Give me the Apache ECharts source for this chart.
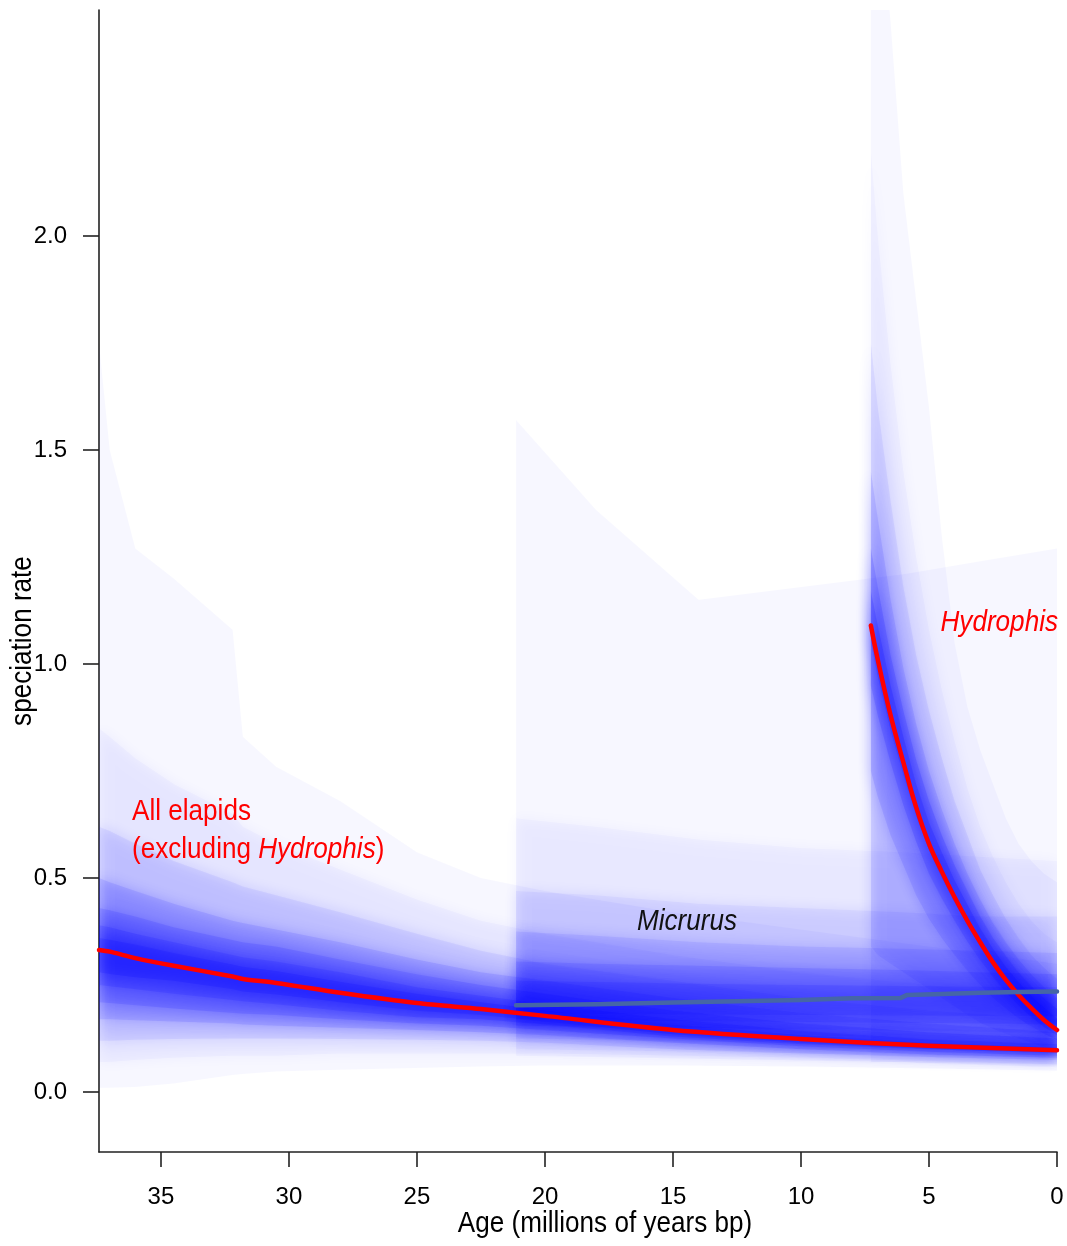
<!DOCTYPE html>
<html><head><meta charset="utf-8">
<script src="https://cdn.jsdelivr.net/npm/echarts@6/dist/echarts.min.js"></script>
<style>html,body{margin:0;padding:0;background:#fff}#c{width:1067px;height:1246px}</style>
</head><body><div id="c"></div>
<script>
// ---------- axis ticks ----------
const xTicks = [0, 5, 10, 15, 20, 25, 30, 35];
const yTicks = [0, 0.5, 1.0, 1.5, 2.0];

// ---------- All elapids (excluding Hydrophis) ----------
const E_age = [37.42, 37.0, 36.0, 34.5, 32.2, 31.8, 30.5, 28, 25, 22.5, 20, 15, 10, 5, 0];
const E_med = [0.332, 0.328, 0.313, 0.295, 0.270, 0.264, 0.255, 0.232, 0.208, 0.194, 0.178, 0.145, 0.124, 0.108, 0.098];
const E_hi = [
  [1.75, 1.50, 1.27, 1.20, 1.08, 0.83, 0.76, 0.68, 0.56, 0.50, 0.47, 0.42, 0.38, 0.34, 0.30],
  [0.85, 0.83, 0.78, 0.72, 0.65, 0.62, 0.58, 0.52, 0.45, 0.40, 0.37, 0.32, 0.28, 0.25, 0.22],
  [0.62, 0.61, 0.58, 0.54, 0.49, 0.48, 0.46, 0.42, 0.37, 0.33, 0.30, 0.26, 0.22, 0.19, 0.17],
  [0.50, 0.49, 0.47, 0.44, 0.40, 0.395, 0.38, 0.35, 0.31, 0.28, 0.26, 0.22, 0.185, 0.16, 0.14],
  [0.43, 0.425, 0.41, 0.385, 0.355, 0.35, 0.34, 0.31, 0.275, 0.25, 0.23, 0.19, 0.16, 0.14, 0.125],
  [0.39, 0.385, 0.37, 0.35, 0.32, 0.315, 0.305, 0.28, 0.245, 0.225, 0.205, 0.17, 0.143, 0.123, 0.112],
  [0.36, 0.356, 0.345, 0.325, 0.298, 0.293, 0.283, 0.258, 0.23, 0.21, 0.192, 0.158, 0.133, 0.115, 0.104]
];
const E_lo = [
  [0.01, 0.01, 0.012, 0.02, 0.04, 0.042, 0.048, 0.052, 0.056, 0.06, 0.062, 0.062, 0.06, 0.055, 0.05],
  [0.07, 0.07, 0.075, 0.08, 0.085, 0.085, 0.085, 0.09, 0.09, 0.09, 0.09, 0.085, 0.08, 0.072, 0.065],
  [0.12, 0.12, 0.122, 0.124, 0.125, 0.125, 0.125, 0.124, 0.122, 0.12, 0.115, 0.10, 0.09, 0.082, 0.075],
  [0.17, 0.17, 0.168, 0.165, 0.16, 0.158, 0.155, 0.15, 0.145, 0.14, 0.133, 0.115, 0.10, 0.088, 0.08],
  [0.21, 0.208, 0.203, 0.195, 0.185, 0.183, 0.18, 0.17, 0.16, 0.155, 0.145, 0.125, 0.107, 0.094, 0.085],
  [0.25, 0.247, 0.24, 0.23, 0.215, 0.212, 0.205, 0.19, 0.175, 0.17, 0.158, 0.13, 0.112, 0.10, 0.09],
  [0.28, 0.276, 0.268, 0.26, 0.24, 0.235, 0.228, 0.21, 0.19, 0.18, 0.165, 0.135, 0.115, 0.101, 0.093]
];
const E_alpha = [0.03, 0.072, 0.167, 0.267, 0.309, 0.342, 0.40];

// ---------- Micrurus ----------
const M_age = [21.13, 18, 15, 12, 10, 8, 6.1, 5.85, 4.5, 3, 1.5, 0];
const M_mean = [0.203, 0.205, 0.209, 0.213, 0.215, 0.219, 0.220, 0.227, 0.229, 0.232, 0.234, 0.235];
const M_bage = [21.13, 18, 14, 10, 6, 3, 0];
const M_hi = [
  [1.57, 1.36, 1.15, 1.18, 1.21, 1.24, 1.27],
  [0.64, 0.62, 0.59, 0.57, 0.56, 0.55, 0.54],
  [0.47, 0.46, 0.44, 0.43, 0.42, 0.41, 0.41],
  [0.375, 0.365, 0.35, 0.34, 0.335, 0.33, 0.325],
  [0.305, 0.30, 0.295, 0.29, 0.285, 0.28, 0.275],
  [0.26, 0.257, 0.253, 0.25, 0.248, 0.246, 0.245]
];
const M_lo = [
  [0.085, 0.082, 0.078, 0.074, 0.07, 0.067, 0.064],
  [0.10, 0.098, 0.094, 0.09, 0.086, 0.083, 0.08],
  [0.125, 0.122, 0.118, 0.113, 0.108, 0.104, 0.10],
  [0.155, 0.153, 0.15, 0.147, 0.144, 0.141, 0.138],
  [0.17, 0.168, 0.166, 0.164, 0.162, 0.16, 0.158],
  [0.185, 0.183, 0.181, 0.18, 0.179, 0.178, 0.177]
];
const M_alpha = [0.03, 0.06, 0.12, 0.2, 0.27, 0.29];

// ---------- Hydrophis ----------
const H_age = [7.27, 7.0, 6.5, 6.0, 5.5, 5.0, 4.5, 4.0, 3.5, 3.0, 2.5, 2.0, 1.5, 1.0, 0.5, 0];
const H_med = [1.09, 1.01, 0.88, 0.77, 0.665, 0.58, 0.515, 0.455, 0.40, 0.35, 0.303, 0.262, 0.227, 0.196, 0.168, 0.145];
const H_hi = [
  [3.0, 2.85, 2.5, 2.1, 1.85, 1.6, 1.3, 1.05, 0.9, 0.8, 0.72, 0.64, 0.58, 0.54, 0.51, 0.49],
  [2.2, 2.0, 1.7, 1.45, 1.25, 1.08, 0.94, 0.82, 0.71, 0.62, 0.55, 0.49, 0.44, 0.40, 0.37, 0.35],
  [1.75, 1.6, 1.38, 1.18, 1.02, 0.89, 0.78, 0.68, 0.6, 0.52, 0.46, 0.405, 0.36, 0.32, 0.29, 0.265],
  [1.45, 1.34, 1.15, 0.99, 0.86, 0.75, 0.66, 0.58, 0.51, 0.45, 0.395, 0.35, 0.31, 0.275, 0.245, 0.22],
  [1.27, 1.18, 1.02, 0.89, 0.775, 0.68, 0.6, 0.53, 0.47, 0.41, 0.36, 0.318, 0.28, 0.247, 0.218, 0.195],
  [1.17, 1.09, 0.95, 0.83, 0.72, 0.63, 0.56, 0.495, 0.438, 0.383, 0.335, 0.293, 0.257, 0.225, 0.197, 0.172]
];
const H_lo = [
  [0.07, 0.07, 0.07, 0.07, 0.068, 0.068, 0.067, 0.066, 0.065, 0.064, 0.063, 0.062, 0.061, 0.06, 0.06, 0.06],
  [0.12, 0.12, 0.115, 0.11, 0.108, 0.105, 0.1, 0.098, 0.095, 0.092, 0.09, 0.088, 0.085, 0.083, 0.08, 0.078],
  [0.34, 0.32, 0.3, 0.28, 0.26, 0.24, 0.22, 0.2, 0.18, 0.162, 0.148, 0.136, 0.125, 0.115, 0.106, 0.099],
  [0.75, 0.69, 0.6, 0.53, 0.46, 0.405, 0.36, 0.32, 0.283, 0.25, 0.22, 0.195, 0.172, 0.153, 0.136, 0.121],
  [0.95, 0.88, 0.77, 0.67, 0.585, 0.51, 0.452, 0.4, 0.352, 0.308, 0.268, 0.233, 0.202, 0.175, 0.152, 0.132],
  [1.05, 0.97, 0.845, 0.74, 0.645, 0.565, 0.5, 0.443, 0.392, 0.343, 0.298, 0.259, 0.224, 0.194, 0.167, 0.144]
];
const H_alpha = [0.03, 0.072, 0.167, 0.267, 0.364, 0.429];

// ---------- build ----------
const FONT = "'Liberation Sans', Arial, Helvetica, sans-serif";
const OFF = 4000;   // shadow trick: soft copy of a band is drawn as a shadow
const BLUR = 14;

// one custom series per quantile band: data rows [age, lower, upper]
function bandSeries(ages, lo, hi, alpha) {
  const out = [];
  for (let k = 0; k < lo.length; k++) {
    const a = alpha[k];
    const soft = k > 0;
    const aSharp = soft ? a * 0.35 : a;
    const aSoft = soft ? 1 - (1 - a) / (1 - aSharp) : 0;
    out.push({
      type: 'custom', silent: true, clip: true,
      data: ages.map((x, i) => [x, lo[k][i], hi[k][i]]),
      encode: { x: 0, y: [1, 2] },
      renderItem: function (params, api) {
        if (params.dataIndexInside !== 0) return null;
        const n = params.dataInsideLength;
        const top = [], bot = [];
        for (let i = 0; i < n; i++) {
          const x = api.value(0, i);
          top.push(api.coord([x, api.value(2, i)]));
          bot.push(api.coord([x, api.value(1, i)]));
        }
        const pts = top.concat(bot.reverse());
        const children = [{ type: 'polygon', shape: { points: pts },
          style: { fill: 'rgba(0,0,255,' + aSharp + ')', stroke: null } }];
        if (soft) {
          children.push({ type: 'polygon', shape: { points: pts.map(p => [p[0] + OFF, p[1]]) },
            style: { fill: '#000', stroke: null, shadowBlur: BLUR, shadowOffsetX: -OFF, shadowOffsetY: 0,
                     shadowColor: 'rgba(0,0,255,' + aSoft + ')' } });
        }
        return { type: 'group', children: children };
      }
    });
  }
  return out;
}
function lineSeries(ages, vals, color, smooth) {
  return {
    type: 'line', silent: true, symbol: 'none', smooth: smooth,
    data: ages.map((a, i) => [a, vals[i]]),
    lineStyle: { color: color, width: 4.5, cap: 'round', join: 'round' }
  };
}

const series = [].concat(
  bandSeries(E_age, E_lo, E_hi, E_alpha),
  [lineSeries(E_age, E_med, '#ff0000', 0.3)],
  bandSeries(H_age, H_lo, H_hi, H_alpha),
  [lineSeries(H_age, H_med, '#ff0000', 0.4)],
  bandSeries(M_bage, M_lo, M_hi, M_alpha),
  [lineSeries(M_age, M_mean, '#4666a6', false)]
);

const axisLineStyle = { color: '#222', width: 1.6 };
const option = {
  animation: false,
  backgroundColor: '#ffffff',
  grid: { left: 99, right: 10, top: 10, bottom: 94, containLabel: false },
  xAxis: {
    type: 'value', inverse: true, min: 0, max: 37.42,
    axisLine: { show: true, onZero: false, lineStyle: axisLineStyle },
    axisTick: { show: true, length: 15, lineStyle: axisLineStyle, customValues: xTicks },
    axisLabel: { customValues: xTicks, fontSize: 24, color: '#000', fontFamily: FONT, margin: 33 },
    splitLine: { show: false }
  },
  yAxis: {
    type: 'value', min: -0.14, max: 2.528,
    axisLine: { show: true, onZero: false, lineStyle: axisLineStyle },
    axisTick: { show: true, length: 16, lineStyle: axisLineStyle, customValues: yTicks },
    axisLabel: { customValues: yTicks, fontSize: 24, color: '#000', fontFamily: FONT, margin: 32,
                 formatter: v => Number(v).toFixed(1) },
    splitLine: { show: false }
  },
  series: series,
  graphic: [
    { type: 'text', x: 132, y: 812, scaleX: 0.87, z: 100,
      style: { text: 'All elapids', fontSize: 30, fontFamily: FONT, fill: '#ff0000', align: 'left', verticalAlign: 'middle' } },
    { type: 'text', x: 132, y: 850, scaleX: 0.87, z: 100,
      style: { text: '(excluding {i|Hydrophis})', fontSize: 30, fontFamily: FONT, fill: '#ff0000', align: 'left', verticalAlign: 'middle',
               rich: { i: { fontStyle: 'italic', fontSize: 30, fontFamily: FONT, fill: '#ff0000' } } } },
    { type: 'text', x: 687, y: 922, scaleX: 0.87, z: 100,
      style: { text: 'Micrurus', fontSize: 30, fontStyle: 'italic', fontFamily: FONT, fill: '#111', align: 'center', verticalAlign: 'middle' } },
    { type: 'text', x: 1058, y: 623, scaleX: 0.87, z: 100,
      style: { text: 'Hydrophis', fontSize: 30, fontStyle: 'italic', fontFamily: FONT, fill: '#ff0000', align: 'right', verticalAlign: 'middle' } },
    { type: 'text', x: 605, y: 1224, scaleX: 0.87, z: 100,
      style: { text: 'Age (millions of years bp)', fontSize: 30, fontFamily: FONT, fill: '#000', align: 'center', verticalAlign: 'middle' } },
    { type: 'text', x: 23, y: 641, scaleX: 0.87, rotation: Math.PI / 2, z: 100,
      style: { text: 'speciation rate', fontSize: 30, fontFamily: FONT, fill: '#000', align: 'center', verticalAlign: 'middle' } }
  ]
};
const chart = echarts.init(document.getElementById('c'), null, { renderer: 'canvas' });
chart.setOption(option);
</script>
</body></html>
